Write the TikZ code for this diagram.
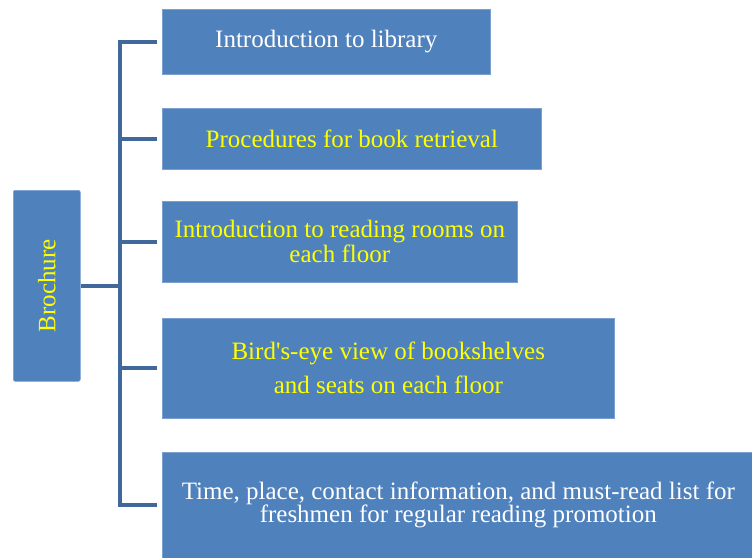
\documentclass[tikz,border=0pt]{standalone}
\usepackage{fontspec}
\setmainfont{Liberation Serif}
\definecolor{boxblue}{HTML}{4F81BD}
\definecolor{boxedge}{HTML}{7A9FD0}
\definecolor{lineblue}{HTML}{41689B}
\definecolor{txtyellow}{HTML}{FFFF00}
\begin{document}
\begin{tikzpicture}[x=1pt,y=-1pt,
  box/.style={fill=boxblue, draw=boxedge, line width=0.6pt, inner sep=0pt,
    align=center, anchor=north west, font=\fontsize{25}{25}\selectfont},
  conn/.style={draw=lineblue, line width=4pt, line join=miter}]
\useasboundingbox (0,0) rectangle (752,557);

\node[box, text=txtyellow, rounded corners=2pt, minimum width=67, minimum height=191] (br) at (13,190) {\rotatebox{90}{Brochure}};

\node[box, text=white, minimum width=328, minimum height=65] (b1) at (162,9) {\raisebox{-2pt}{Introduction to library}};
\node[box, text=txtyellow, minimum width=379, minimum height=61] (b2) at (162,108) {Procedures for book retrieval};
\node[box, text=txtyellow, minimum width=355, minimum height=81] (b3) at (162,201) {Introduction to reading rooms on\\each floor};
\node[box, text=txtyellow, minimum width=452, minimum height=100, font=\fontsize{25}{34}\selectfont] (b4) at (162,318) {Bird\textquotesingle s-eye view of bookshelves\\and seats on each floor};
\node[box, text=white, minimum width=592, minimum height=106, font=\fontsize{25}{23}\selectfont] (b5) at (162,452) {Time, place, contact information, and must-read list for\\freshmen for regular reading promotion};

\path (b1.west) ++(-42,0) coordinate (t1);
\path (b5.west) ++(-42,0) coordinate (t5);
\draw[conn] ([xshift=-5]b1.west) -- (t1) -- (t5) -- ([xshift=-5]b5.west);
\draw[conn] (t1 |- b2.west) -- ([xshift=-5]b2.west);
\draw[conn] (t1 |- b3.west) -- ([xshift=-5]b3.west);
\draw[conn] (t1 |- b4.west) -- ([xshift=-5]b4.west);
\draw[conn] (br.east) -- (t1 |- br.east);
\end{tikzpicture}
\end{document}
